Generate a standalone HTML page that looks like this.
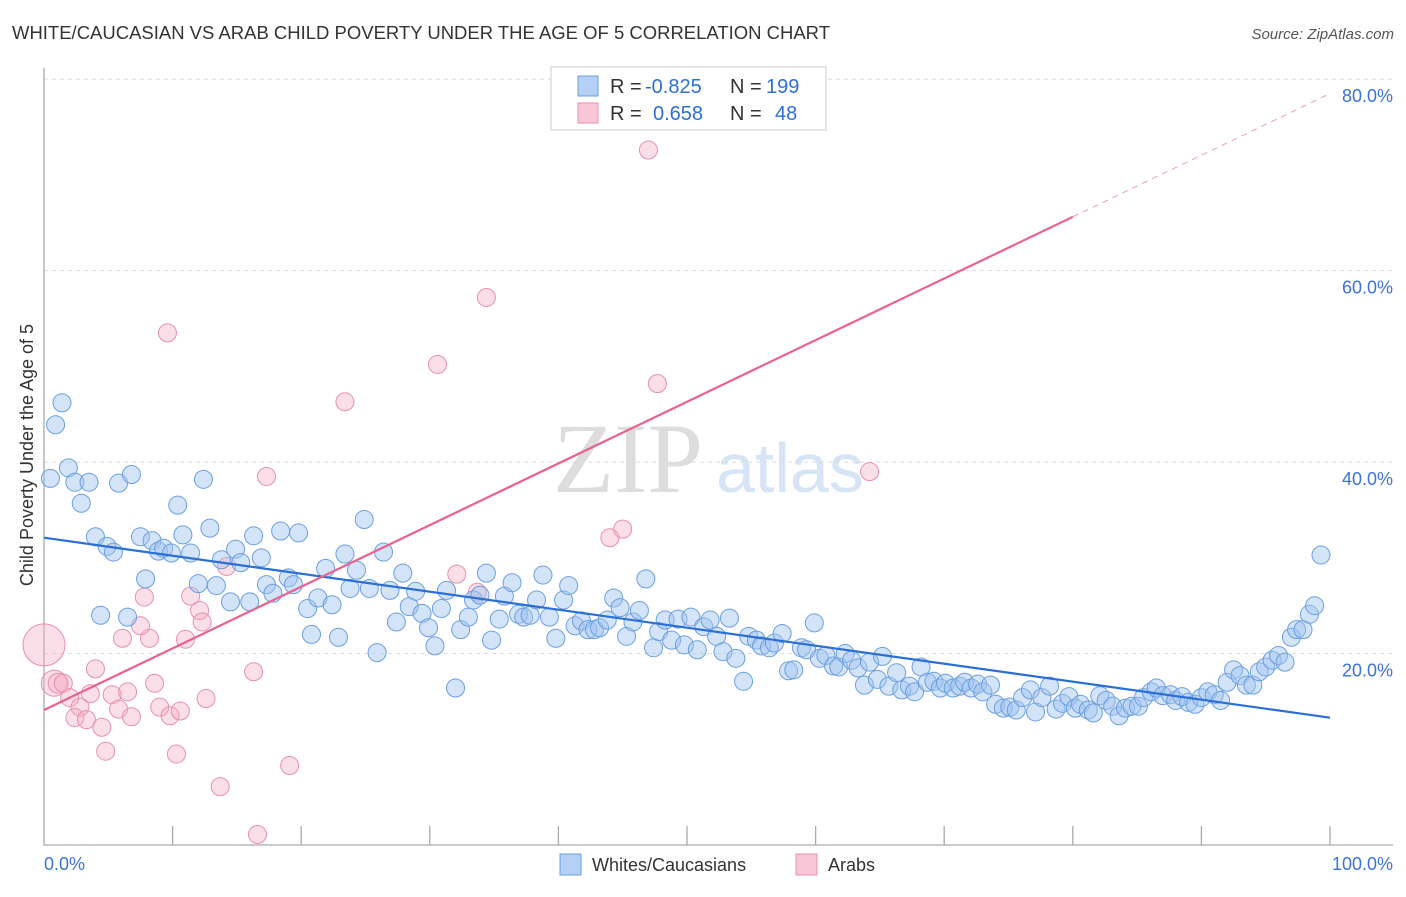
<!DOCTYPE html>
<html><head><meta charset="utf-8">
<style>
body{margin:0;background:#fff;font-family:"Liberation Sans",sans-serif;}
</style></head>
<body>
<svg id="chart" width="1406" height="892" xmlns="http://www.w3.org/2000/svg" font-family="Liberation Sans, sans-serif">
<text x="12" y="39" font-size="18" fill="#333" textLength="818" lengthAdjust="spacingAndGlyphs">WHITE/CAUCASIAN VS ARAB CHILD POVERTY UNDER THE AGE OF 5 CORRELATION CHART</text>
<text x="1394" y="39" font-size="15" fill="#555" text-anchor="end" font-style="italic">Source: ZipAtlas.com</text>
<text x="553" y="492" font-size="100" fill="#ddd" style="font-family:'Liberation Serif',serif">ZIP</text>
<text x="716" y="492" font-size="70" fill="#d6e4f5">atlas</text>
<text transform="translate(33,455) rotate(-90)" font-size="18" fill="#333" text-anchor="middle">Child Poverty Under the Age of 5</text>
<g id="grid"></g>
<g id="axes"></g>
<g id="pinkpts"></g>
<g id="bluepts"></g>
<g id="lines"></g>
<g>
<rect x="551" y="67" width="275" height="63" fill="#fff" stroke="#ccc"/>
<rect x="578" y="76" width="20" height="20" fill="#b4d0f5" stroke="#6a9fe0"/>
<text x="610" y="93" font-size="20" fill="#333">R = </text><text x="645" y="93" font-size="20" fill="#2c6fd6">-0.825</text>
<text x="730" y="93" font-size="20" fill="#333">N = </text><text x="766" y="93" font-size="20" fill="#2c6fd6">199</text>
<rect x="578" y="103" width="20" height="20" fill="#f8c6d6" stroke="#e890aa"/>
<text x="610" y="120" font-size="20" fill="#333">R = </text><text x="653" y="120" font-size="20" fill="#2c6fd6">0.658</text>
<text x="730" y="120" font-size="20" fill="#333">N = </text><text x="775" y="120" font-size="20" fill="#2c6fd6">48</text>
</g>
<g>
<rect x="560" y="854" width="21" height="21" fill="#b4d0f5" stroke="#6a9fe0"/>
<text x="592" y="871" font-size="18" fill="#333">Whites/Caucasians</text>
<rect x="796" y="854" width="21" height="21" fill="#f8c6d6" stroke="#e890aa"/>
<text x="828" y="871" font-size="18" fill="#333">Arabs</text>
</g>
</svg>
<script>
const yTicks=[20,40,60,80];
const yTickLabels=["20.0%","40.0%","60.0%","80.0%"];
const xTickLabels=["0.0%","100.0%"];
const blueX=[0.5,1.4,0.9,1.9,2.4,3.5,2.9,4.0,4.9,5.4,4.4,6.5,5.8,6.8,7.9,7.5,8.4,8.9,9.3,9.9,10.4,10.8,11.4,12.4,12.0,12.9,13.4,13.8,14.5,14.9,15.3,16.0,16.3,16.9,17.3,17.8,18.4,19.0,19.4,19.8,20.5,20.8,21.3,21.9,22.4,22.9,23.4,23.8,24.3,24.9,25.3,25.9,26.4,26.9,27.4,27.9,28.4,28.9,29.4,29.9,30.4,30.9,31.3,32.0,32.4,33.0,33.4,33.9,34.4,34.8,35.4,35.8,36.4,36.9,37.3,37.8,38.3,38.8,39.3,39.8,40.4,40.8,41.3,41.8,42.3,42.8,43.2,43.8,44.3,44.8,45.3,45.8,46.3,46.8,47.4,47.8,48.3,48.8,49.3,49.8,50.3,50.8,51.3,51.8,52.3,52.8,53.3,53.8,54.4,54.8,55.4,55.8,56.4,56.8,57.4,57.9,58.3,58.9,59.3,59.9,60.3,60.8,61.4,61.8,62.3,62.8,63.3,63.8,64.2,64.8,65.2,65.7,66.3,66.7,67.3,67.7,68.2,68.7,69.2,69.7,70.1,70.7,71.2,71.6,72.1,72.6,73.0,73.6,74.0,74.6,75.1,75.6,76.1,76.7,77.1,77.6,78.2,78.7,79.2,79.7,80.2,80.6,81.2,81.6,82.1,82.6,83.1,83.6,84.1,84.6,85.1,85.5,86.1,86.5,87.0,87.6,88.0,88.5,89.0,89.5,90.0,90.5,91.0,91.5,92.0,92.5,93.0,93.5,94.0,94.5,95.0,95.5,96.0,96.5,97.0,97.4,97.9,98.4,98.8,99.3];
const blueY=[38.3,46.2,43.9,39.4,37.9,37.9,35.7,32.2,31.2,30.6,24.0,23.8,37.8,38.7,27.8,32.2,31.8,30.7,31.0,30.5,35.5,32.4,30.5,38.2,27.3,33.1,27.1,29.8,25.4,30.9,29.5,25.4,32.3,30.0,27.2,26.3,32.8,27.9,27.2,32.6,24.7,22.0,25.8,28.9,25.1,21.7,30.4,26.8,28.7,34.0,26.8,20.1,30.6,26.6,23.3,28.4,24.9,26.5,24.2,22.7,20.8,24.7,26.6,16.4,22.5,23.8,25.6,26.1,28.4,21.4,23.6,26.0,27.4,24.1,23.8,24.0,25.6,28.2,23.8,21.6,25.6,27.1,22.9,23.4,22.5,22.5,22.7,23.5,25.8,24.8,21.8,23.3,24.5,27.8,20.6,22.3,23.5,21.4,23.6,20.9,23.8,20.4,22.8,23.5,21.8,20.2,23.7,19.5,17.1,21.8,21.4,20.8,20.6,21.1,22.1,18.2,18.3,20.6,20.4,23.2,19.5,19.8,18.7,18.6,20.0,19.3,18.5,16.7,19.1,17.3,19.7,16.6,18.0,16.2,16.6,16.0,18.6,17.0,17.1,16.4,16.9,16.4,16.6,17.0,16.4,16.8,16.0,16.7,14.7,14.3,14.4,14.1,15.4,16.2,13.9,15.4,16.6,14.2,14.8,15.5,14.3,14.7,14.1,13.8,15.6,15.1,14.5,13.5,14.3,14.5,14.5,15.4,16.0,16.4,15.6,15.7,15.1,15.5,14.9,14.7,15.4,16.0,15.7,15.1,17.0,18.3,17.7,16.7,16.7,18.1,18.6,19.3,19.8,19.1,21.7,22.5,22.5,24.1,25.0,30.3];
const pinkX=[0,0.8,1.1,1.5,2.0,4.0,3.6,2.8,2.4,3.3,4.5,4.8,5.3,5.8,6.5,6.8,6.1,8.2,7.8,7.5,8.6,9.0,9.8,10.3,10.6,11.0,11.4,12.1,12.3,12.6,13.7,14.2,16.3,16.6,19.1,9.6,17.3,23.4,30.6,34.4,47.0,47.7,64.2,32.1,33.7,44.0,45.0];
const pinkY=[20.9,16.9,16.9,16.9,15.4,18.4,15.8,14.4,13.3,13.1,12.3,9.8,15.7,14.2,16.0,13.4,21.6,21.6,25.9,22.9,16.9,14.4,13.5,9.5,14.0,21.5,26.0,24.5,23.3,15.3,6.1,29.1,18.1,1.1,8.3,53.5,38.5,46.3,50.2,57.2,72.6,48.2,39.0,28.3,26.4,32.1,33.0];
const pinkR=[21,13,10,9,9,9,9,9,9,9,9,9,9,9,9,9,9,9,9,9,9,9,9,9,9,9,9,9,9,9,9,9,9,9,9,9,9,9,9,9,9,9,9,9,9,9,9];
const blueFit=[32.1,13.3];
const pinkFit=[14.1,78.5];
const NS="http://www.w3.org/2000/svg";
const sx=v=>44+v*12.86;
const sy=v=>845-v*9.5725;
function mk(tag,attrs,parent){const e=document.createElementNS(NS,tag);for(const k in attrs)e.setAttribute(k,attrs[k]);parent.appendChild(e);return e;}
const grid=document.getElementById('grid'),axes=document.getElementById('axes');
yTicks.forEach((t,i)=>{
 const l=mk('line',{x1:44,x2:1393,y1:sy(t),y2:sy(t),stroke:'#ddd','stroke-dasharray':'4,4'},grid);
 
 
 const tx=mk('text',{x:1393,y:sy(t)+23,'font-size':18,fill:'#3b73d6','text-anchor':'end'},grid);
 tx.textContent=yTickLabels[i];
 
 
});
const ax=mk('path',{d:'M44,68 V845 H1393',stroke:'#aaa',fill:'none','stroke-width':1.3},axes);


for(let i=1;i<=10;i++){
 const tk=mk('line',{x1:sx(i*10),x2:sx(i*10),y1:826,y2:845,stroke:'#aaa','stroke-width':1.3},axes);
 
 
}
[[0,'start',44],[1,'end',1393]].forEach(([i,a,x])=>{
 const t=mk('text',{x:x,y:870,'font-size':18,fill:'#3b73d6','text-anchor':a},axes);
 t.textContent=xTickLabels[i];
 
 
});
const pg=document.getElementById('pinkpts');
pinkX.forEach((x,i)=>{
 const c=mk('circle',{cx:sx(x),cy:sy(pinkY[i]),r:pinkR[i],fill:'rgba(244,175,198,0.4)',stroke:'#e890aa','stroke-width':1},pg);
 
 
});
const bg=document.getElementById('bluepts');
blueX.forEach((x,i)=>{
 const c=mk('circle',{cx:sx(x),cy:sy(blueY[i]),r:9,fill:'rgba(160,196,240,0.45)',stroke:'#6a9fe0','stroke-width':1},bg);
 
 
});
const lg=document.getElementById('lines');
const bl=mk('line',{x1:sx(0),y1:sy(blueFit[0]),x2:sx(100),y2:sy(blueFit[1]),stroke:'#2a6fd6','stroke-width':2.2},lg);


const pAt=x=>pinkFit[0]+(pinkFit[1]-pinkFit[0])*x/100;
const pl=mk('line',{x1:sx(0),y1:sy(pAt(0)),x2:sx(80),y2:sy(pAt(80)),stroke:'#e8638f','stroke-width':2.2},lg);


const pd=mk('line',{x1:sx(80),y1:sy(pAt(80)),x2:sx(100),y2:sy(pAt(100)),stroke:'#e8a0b8','stroke-width':1,'stroke-dasharray':'6,5'},lg);


</script>
</body></html>
